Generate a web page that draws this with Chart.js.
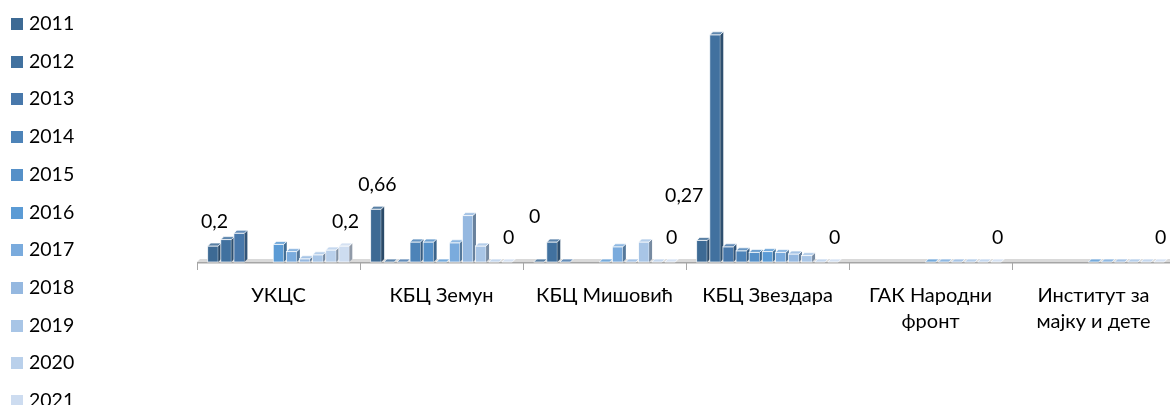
<!DOCTYPE html>
<html>
<head>
<meta charset="utf-8">
<script src="https://cdn.jsdelivr.net/npm/chart.js@4"></script>
<style>
  html, body { margin: 0; padding: 0; background: #fff; overflow: hidden; }
  #wrap { position: relative; width: 1180px; height: 405px; }
  #legend { position: absolute; left: 11px; top: 0; font-family: Lato, 'Noto Sans', sans-serif; font-size: 19.5px; color: #000; }
  #legend div { position: absolute; left: 0; white-space: nowrap; height: 20px; line-height: 20px; }
  #legend span.box { display: inline-block; width: 12px; height: 12px; vertical-align: 0px; margin-right: 6px; }
</style>
</head>
<body>
<div id="wrap">
  <canvas id="hospChart" width="1180" height="405"></canvas>
  <div id="legend"></div>
</div>
<script>
const categories = [['УКЦС'], ['КБЦ Земун'], ['КБЦ Мишовић'], ['КБЦ Звездара'], ['ГАК Народни', 'фронт'], ['Институт за', 'мајку и дете']];
const years = ['2011', '2012', '2013', '2014', '2015', '2016', '2017', '2018', '2019', '2020', '2021'];
const colors = ['#3d6a94', '#41719f', '#4878ab', '#4d83b8', '#5590c8', '#5b9bd5', '#7aabdd', '#95b8e0', '#a8c5e6', '#b9d0eb', '#cddcf0'];

// one array per year, one value per hospital (null = no data)
const v2011 = [0.2, 0.66, 0, 0.27, null, null];
const v2012 = [0.28, 0, 0.25, 2.84, null, null];
const v2013 = [0.36, 0, 0, 0.19, null, null];
const v2014 = [null, 0.25, null, 0.14, null, null];
const v2015 = [null, 0.25, null, 0.12, null, null];
const v2016 = [0.22, 0, 0, 0.13, 0, 0];
const v2017 = [0.13, 0.24, 0.19, 0.12, 0, 0];
const v2018 = [0.04, 0.58, 0, 0.1, 0, 0];
const v2019 = [0.09, 0.2, 0.25, 0.08, 0, 0];
const v2020 = [0.15, 0, 0, 0, 0, 0];
const v2021 = [0.2, 0, 0, 0, 0, 0];
const series = [v2011, v2012, v2013, v2014, v2015, v2016, v2017, v2018, v2019, v2020, v2021];
const labelled = [0, 10]; // series that carry value labels

const depth = 3;
const font = "Lato, 'Noto Sans', sans-serif";

function shade(hex, f) {
  let r = parseInt(hex.slice(1, 3), 16), g = parseInt(hex.slice(3, 5), 16), b = parseInt(hex.slice(5, 7), 16);
  if (f > 0) { r += (255 - r) * f; g += (255 - g) * f; b += (255 - b) * f; }
  else { r *= 1 + f; g *= 1 + f; b *= 1 + f; }
  return 'rgb(' + Math.round(r) + ',' + Math.round(g) + ',' + Math.round(b) + ')';
}

const bars3d = {
  id: 'bars3d',
  beforeDatasetsDraw(chart) {
    const ctx = chart.ctx;
    const area = chart.chartArea;
    const base = chart.scales.y.getPixelForValue(0);
    ctx.save();
    // floor
    ctx.fillStyle = '#d9d9d9';
    ctx.beginPath();
    ctx.moveTo(area.left, base);
    ctx.lineTo(area.left + depth, base - depth);
    ctx.lineTo(area.right + depth, base - depth);
    ctx.lineTo(area.right, base);
    ctx.closePath();
    ctx.fill();
    ctx.fillStyle = '#a6a6a6';
    ctx.fillRect(area.left, base, area.right - area.left, 1.5);

    // bars, left to right inside each category
    for (let j = 0; j < categories.length; j++) {
      chart.data.datasets.forEach((ds, i) => {
        const v = ds.data[j];
        if (v === null) return;
        const bar = chart.getDatasetMeta(i).data[j];
        const { x, y, base: b, width } = bar.getProps(['x', 'y', 'base', 'width'], true);
        const l = x - width / 2, r = x + width / 2;
        const c = colors[i];
        ctx.strokeStyle = 'rgba(255,255,255,0.9)';
        ctx.lineWidth = 0.8;
        // front
        if (b - y > 0.5) {
          ctx.fillStyle = c;
          ctx.fillRect(l, y, width, b - y);
          ctx.strokeRect(l, y, width, b - y);
        }
        // side
        ctx.fillStyle = shade(c, -0.3);
        ctx.beginPath();
        ctx.moveTo(r, y);
        ctx.lineTo(r + depth, y - depth);
        ctx.lineTo(r + depth, b - depth);
        ctx.lineTo(r, b);
        ctx.closePath();
        ctx.fill();
        // top
        ctx.fillStyle = shade(c, 0.15);
        ctx.beginPath();
        ctx.moveTo(l, y);
        ctx.lineTo(l + depth, y - depth);
        ctx.lineTo(r + depth, y - depth);
        ctx.lineTo(r, y);
        ctx.closePath();
        ctx.fill();
        ctx.stroke();
      });
    }

    // value labels
    ctx.font = '19.5px ' + font;
    ctx.fillStyle = '#000';
    ctx.textAlign = 'center';
    ctx.textBaseline = 'middle';
    labelled.forEach(i => {
      const ds = chart.data.datasets[i];
      ds.data.forEach((v, j) => {
        if (v === null) return;
        const bar = chart.getDatasetMeta(i).data[j];
        const txt = String(v).replace('.', ',');
        let lx = bar.x + depth / 2;
        let ly = bar.y - 24;
        const next = chart.data.datasets[i + 1];
        if (next && next.data[j] !== null) {
          const nb = chart.getDatasetMeta(i + 1).data[j];
          if (nb.y < ly + 10) {
            lx -= ctx.measureText(txt).width / 2;
            ly -= 21;
          }
        }
        ctx.fillText(txt, lx, ly);
      });
    });
    ctx.restore();
    return false;
  }
};

const chart = new Chart(document.getElementById('hospChart'), {
  type: 'bar',
  data: {
    labels: categories,
    datasets: years.map((yr, i) => ({
      label: yr,
      data: series[i],
      backgroundColor: colors[i]
    }))
  },
  options: {
    responsive: false,
    animation: false,
    categoryPercentage: 0.885,
    barPercentage: 0.8,
    layout: { padding: { left: 197, right: 5, top: 22, bottom: 0 } },
    scales: {
      x: {
        offset: true,
        afterFit(scale) { scale.height = 143; },
        grid: { offset: true, drawOnChartArea: false, drawTicks: true, tickLength: 8, color: '#a6a6a6' },
        border: { display: false },
        ticks: { color: '#000', padding: 13, maxRotation: 0, autoSkip: false, font: { family: font, size: 20, lineHeight: 1.3 } }
      },
      y: { display: false, min: 0, max: 3 }
    },
    plugins: {
      legend: { display: false },
      tooltip: { enabled: false }
    }
  },
  plugins: [bars3d]
});

const legendEl = document.getElementById('legend');
chart.data.datasets.forEach((ds, i) => {
  const item = document.createElement('div');
  item.style.top = (13 + i * 37.7) + 'px';
  item.innerHTML = '<span class="box" style="background:' + ds.backgroundColor + '"></span>' + ds.label;
  legendEl.appendChild(item);
});
</script>
</body>
</html>
